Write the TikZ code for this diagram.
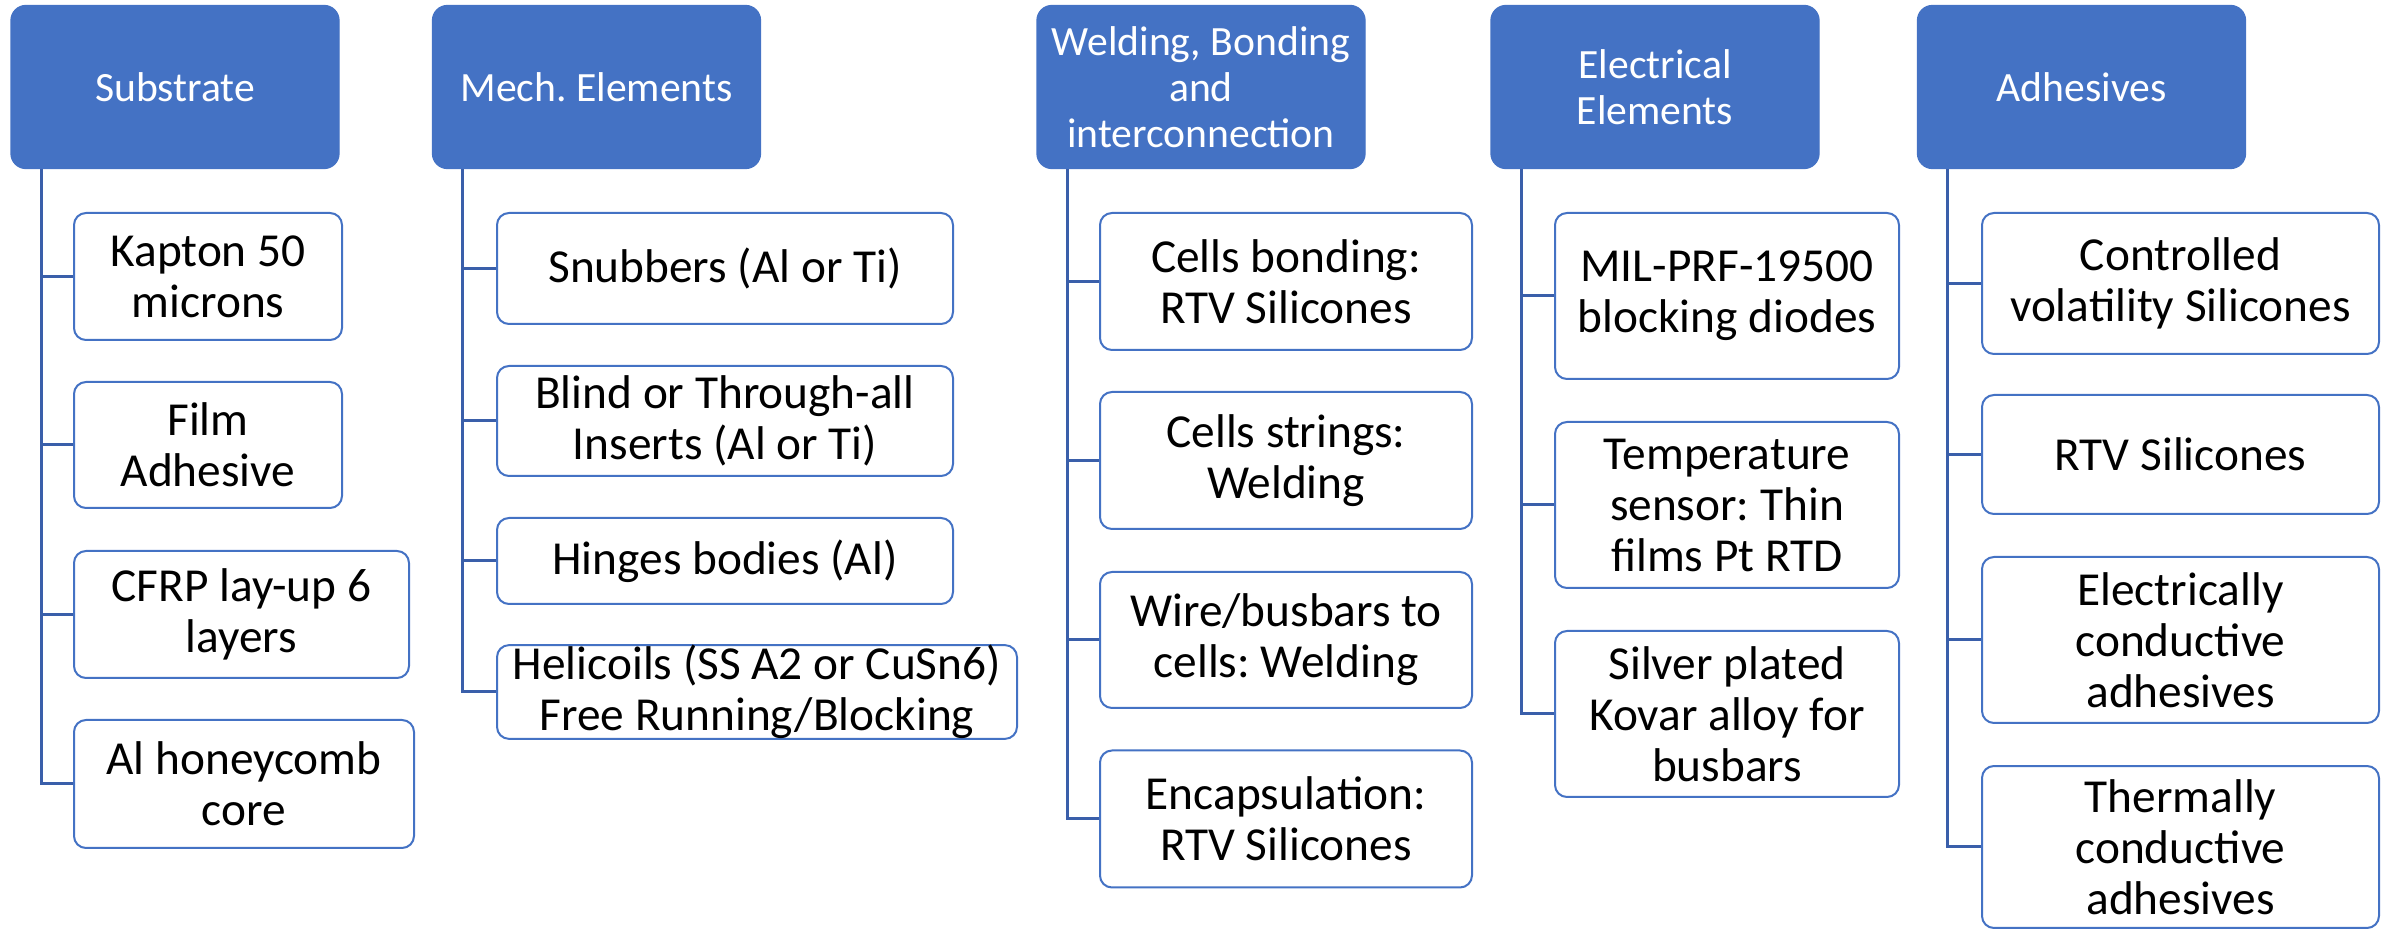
\documentclass[tikz,border=0pt]{standalone}
\usepackage{fontspec}
\setmainfont{Carlito}
\usepackage{tikz}
\usetikzlibrary{positioning}
\frenchspacing
\definecolor{hdrblue}{HTML}{4472C4}
\definecolor{trunkblue}{HTML}{3A5FAA}
\tikzset{hdr/.style = {fill=hdrblue, draw=hdrblue, rounded corners=4.5pt,
                       text=white, align=center, inner sep=0,
                       minimum width=98.4pt, minimum height=48.9pt,
                       font=\fontsize{12.5}{13.8}\selectfont}}
\tikzset{leaf/.style = {draw=hdrblue, line width=0.6pt, rounded corners=3.6pt,
                        fill=white, align=center, inner sep=0,
                        font=\fontsize{14.2}{15.3}\selectfont}}
\tikzset{trunk/.style = {draw=trunkblue, line width=0.9pt}}

\begin{document}
\begin{tikzpicture}[x=0.3pt, y=-0.3pt]
    \useasboundingbox (0, 0) rectangle (2392, 929);

    \node [hdr] (sub) at (175, 87) {Substrate};
    \node [hdr] (mech) at (596.5, 87) {Mech. Elements};
    \node [hdr] (weld) at (1201, 87) {Welding, Bonding\\and\\interconnection};
    \node [hdr] (elec) at (1655, 87) {Electrical\\Elements};
    \node [hdr] (adh) at (2081.5, 87) {Adhesives};

    \node [leaf, minimum width=80.4pt, minimum height=38.1pt] (sub1) at (208, 276.5) {Kapton 50\\microns};
    \node [leaf, minimum width=80.4pt, minimum height=37.8pt] (sub2) at (208, 445) {Film\\Adhesive};
    \node [leaf, minimum width=100.5pt, minimum height=38.1pt] (sub3) at (241.5, 614.5) {CFRP lay-up 6\\layers};
    \node [leaf, minimum width=102pt, minimum height=38.4pt] (sub4) at (244, 784) {Al honeycomb\\core};

    \node [leaf, minimum width=136.8pt, minimum height=33.3pt] (mech1) at (725, 268.5) {Snubbers (Al or Ti)};
    \node [leaf, minimum width=136.8pt, minimum height=33pt] (mech2) at (725, 421) {Blind or Through-all\\Inserts (Al or Ti)};
    \node [leaf, minimum width=136.8pt, minimum height=25.8pt] (mech3) at (725, 561) {Hinges bodies (Al)};
    \node [leaf, minimum width=156pt, minimum height=27.6pt] (mech4) at (757, 692) {Helicoils (SS A2 or CuSn6)\\Free Running/Blocking};

    \node [leaf, minimum width=111.6pt, minimum height=41.1pt] (weld1) at (1286, 281.5) {Cells bonding:\\RTV Silicones};
    \node [leaf, minimum width=111.6pt, minimum height=41.1pt] (weld2) at (1286, 460.5) {Cells strings:\\Welding};
    \node [leaf, minimum width=111.6pt, minimum height=40.8pt] (weld3) at (1286, 640) {Wire/busbars to\\cells: Welding};
    \node [leaf, minimum width=111.6pt, minimum height=41.1pt] (weld4) at (1286, 819) {Encapsulation:\\RTV Silicones};

    \node [leaf, minimum width=103.2pt, minimum height=49.8pt] (elec1) at (1727, 296) {MIL-PRF-19500\\blocking diodes};
    \node [leaf, minimum width=103.2pt, minimum height=49.8pt] (elec2) at (1727, 505) {Temperature\\sensor: Thin\\films Pt RTD};
    \node [leaf, minimum width=103.2pt, minimum height=49.8pt] (elec3) at (1727, 714) {Silver plated\\Kovar alloy for\\busbars};

    \node [leaf, minimum width=119.1pt, minimum height=42.3pt] (adh1) at (2180.5, 283.5) {Controlled\\volatility Silicones};
    \node [leaf, minimum width=119.1pt, minimum height=35.7pt] (adh2) at (2180.5, 454.5) {RTV Silicones};
    \node [leaf, minimum width=119.1pt, minimum height=49.8pt] (adh3) at (2180.5, 640) {Electrically\\conductive\\adhesives};
    \node [leaf, minimum width=119.1pt, minimum height=48.6pt] (adh4) at (2180.5, 847) {Thermally\\conductive\\adhesives};

    \foreach \h/\n in {sub/4, mech/4, weld/4, elec/3, adh/4} {
        \coordinate (\h-t) at ([xshift=9.3pt] \h.south west);
        \foreach \i in {1, ..., \n}
            \draw [trunk] (\h-t) |- (\h\i.west);
    }
\end{tikzpicture}
\end{document}
